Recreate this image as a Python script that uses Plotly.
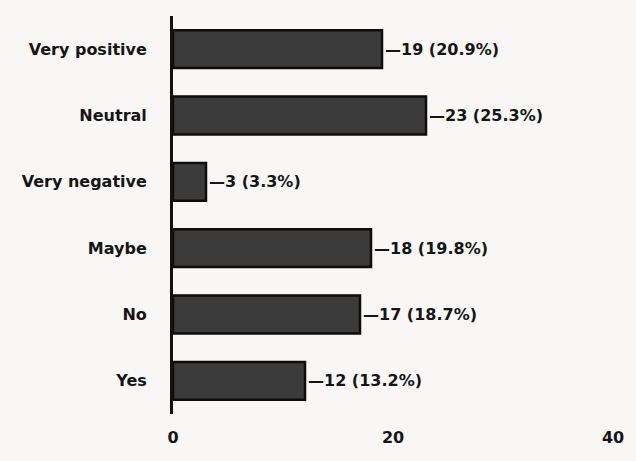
import plotly.graph_objects as go

# Survey responses, listed bottom-to-top as drawn on the y axis
categories = ["Yes", "No", "Maybe", "Very negative", "Neutral", "Very positive"]
counts = [12, 17, 18, 3, 23, 19]
percents = ["13.2%", "18.7%", "19.8%", "3.3%", "25.3%", "20.9%"]
x_ticks = [0, 20, 40]

labels = [f"\u2014{c} ({p})" for c, p in zip(counts, percents)]

FONT = "DejaVu Sans, Verdana, sans-serif"

fig = go.Figure(
    go.Bar(
        x=counts,
        y=categories,
        orientation="h",
        marker=dict(color="#3b3b3b", line=dict(color="#0d0d0d", width=2.5)),
        text=labels,
        textposition="outside",
        textfont=dict(family=FONT, size=16, color="#151515", weight="bold"),
        cliponaxis=False,
        width=0.57,
    )
)

fig.update_layout(
    width=636,
    height=461,
    margin=dict(l=173, r=21, t=16, b=47),
    paper_bgcolor="#f8f7f6",
    plot_bgcolor="#f8f7f6",
    showlegend=False,
    font=dict(family=FONT, size=16, color="#151515", weight="bold"),
)

fig.update_xaxes(
    range=[0, 40],
    tickvals=x_ticks,
    showgrid=False,
    zeroline=False,
    showline=False,
    ticks="",
    ticklabelstandoff=12,
    tickfont=dict(size=16, color="#151515", weight="bold"),
)

fig.update_yaxes(
    categoryorder="array",
    categoryarray=categories,
    range=[-0.5, 5.5],
    showgrid=False,
    showline=True,
    linecolor="#111111",
    linewidth=3,
    ticks="",
    ticklabelstandoff=20,
    tickfont=dict(size=16, color="#151515", weight="bold"),
)

fig.write_html("out.html")
